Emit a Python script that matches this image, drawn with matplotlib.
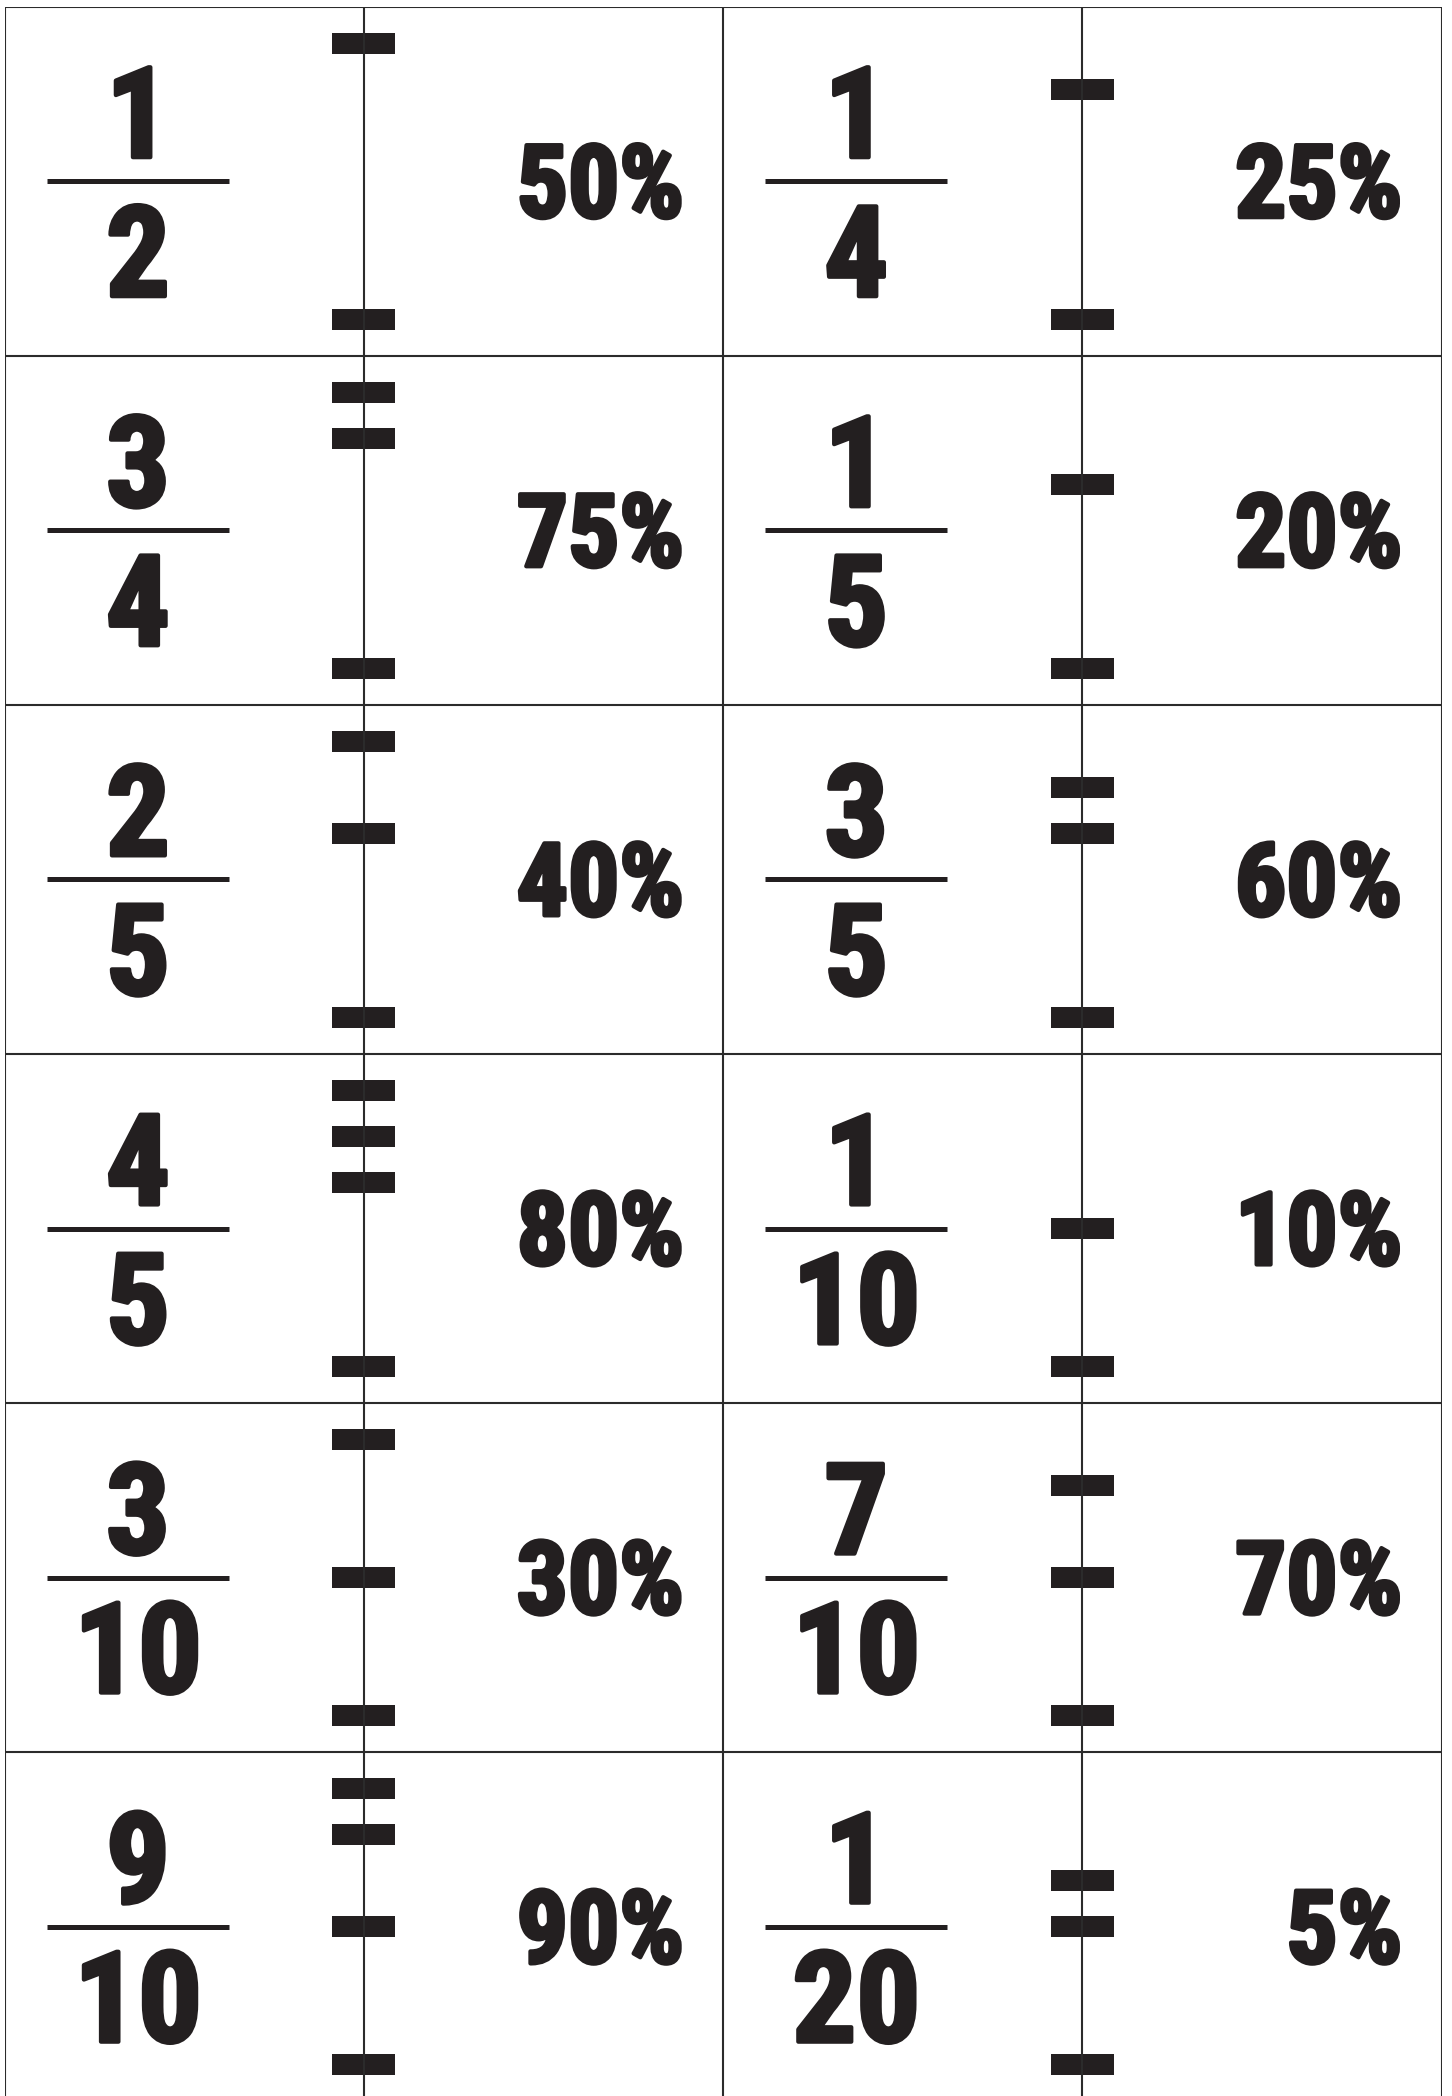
import matplotlib
matplotlib.use("Agg")
import matplotlib.pyplot as plt
from matplotlib.patches import Rectangle
import matplotlib.patheffects as pe

# card contents, read left to right, top to bottom
numerators = [1, 1, 3, 1, 2, 3, 4, 1, 3, 7, 9, 1]
denominators = [2, 4, 4, 5, 5, 5, 5, 10, 10, 10, 10, 20]
percent_labels = ["50%", "25%", "75%", "20%", "40%", "60%",
                  "80%", "10%", "30%", "70%", "90%", "5%"]
# binary code notched on each card's line (card number 1..12)
card_codes = [1, 2, 3, 4, 5, 6, 7, 8, 9, 10, 11, 12]

n_cols = 2
n_rows = 6
ink = "#231f20"
rule = "#2b2b2b"

# pixel geometry of the sheet
fig_w, fig_h = 1452, 2096
left_px, top_px = 5, 6.7
cell_w, cell_h = 718.3, 349.1

fig = plt.figure(figsize=(fig_w / 100, fig_h / 100), dpi=100)
ax = fig.add_axes([left_px / fig_w,
                   1 - (top_px + n_rows * cell_h) / fig_h,
                   n_cols * cell_w / fig_w,
                   n_rows * cell_h / fig_h])
ax.set_xlim(0, n_cols)
ax.set_ylim(n_rows, 0)
ax.axis("off")

# grid lines of the cards
for c in range(n_cols + 1):
    ax.plot([c, c], [0, n_rows], color=rule, lw=1.5, solid_capstyle="butt")
for r in range(n_rows + 1):
    ax.plot([0, n_cols], [r, r], color=rule, lw=1.5, solid_capstyle="butt")

# positions inside one card (fractions of the card)
line_u = 359 / cell_w
tick_w = 63 / cell_w
tick_h = 21 / cell_h
bit_v = [36.5 / cell_h, 82.4 / cell_h, 128.3 / cell_h, 174.3 / cell_h]
base_v = 312.4 / cell_h
frac_u = 133 / cell_w
bar_half = 91 / cell_w
num_base = 150.5 / cell_h
den_base = 289.5 / cell_h
pct_u = 679 / cell_w
pct_base = 210.5 / cell_h

stroke = [pe.withStroke(linewidth=3, foreground=ink)]
font = ["Roboto Condensed", "DejaVu Sans"]
txt = dict(fontweight="bold", fontstretch="condensed", family=font,
           color=ink, path_effects=stroke, va="baseline")

for i in range(len(numerators)):
    r, c = divmod(i, n_cols)
    x0, y0 = c, r

    # the vertical line with its notches
    ax.plot([x0 + line_u, x0 + line_u], [y0, y0 + 1], color=rule, lw=1.5)
    code = card_codes[i]
    marks = [bit_v[b] for b in range(4) if code >> b & 1] + [base_v]
    for v in marks:
        ax.add_patch(Rectangle((x0 + line_u - tick_w / 2, y0 + v - tick_h / 2),
                               tick_w, tick_h, color=ink, lw=0))

    # fraction
    ax.plot([x0 + frac_u - bar_half, x0 + frac_u + bar_half],
            [y0 + 0.5, y0 + 0.5], color=ink, lw=3.6, solid_capstyle="butt")
    ax.text(x0 + frac_u, y0 + num_base, str(numerators[i]), ha="center",
            fontsize=91, **txt)
    ax.text(x0 + frac_u, y0 + den_base, str(denominators[i]), ha="center",
            fontsize=91, **txt)

    # percent
    ax.text(x0 + pct_u, y0 + pct_base, percent_labels[i], ha="right",
            fontsize=73, **txt)

fig.savefig("out.png", dpi=100, facecolor="white")
